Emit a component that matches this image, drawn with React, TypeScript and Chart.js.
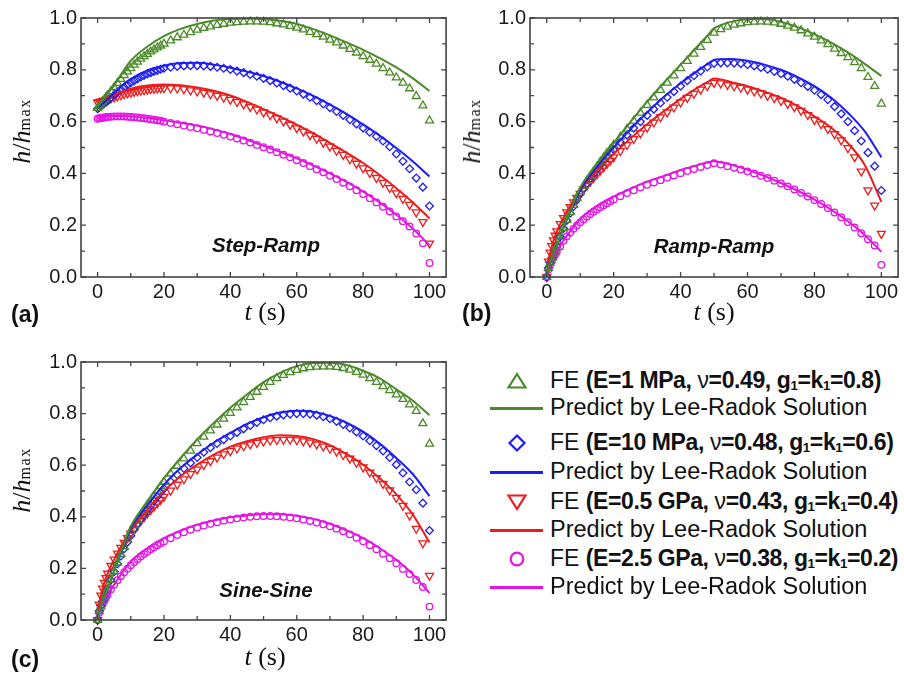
import React, { useEffect, useRef } from 'react';
import { Chart, registerables } from 'chart.js';

Chart.register(...registerables);

// ---------- shared axes ----------
const xTickValues = [0, 20, 40, 60, 80, 100];
const xMinorValues = [10, 30, 50, 70, 90];
const yTickValues = [0, 0.2, 0.4, 0.6, 0.8, 1.0];
const yMinorValues = [0.1, 0.3, 0.5, 0.7, 0.9];

// ---------- time grids ----------
const tFE = [0, 0.5, 1, 1.5, 2, 2.5, 3,
  4, 5, 6, 7, 8, 9, 10, 11, 12, 13, 14, 15, 16, 17, 18, 19, 20,
  22, 24, 26, 28, 30, 32, 34, 36, 38, 40,
  42, 44, 46, 48, 50, 52, 54, 56, 58, 60,
  62, 64, 66, 68, 70, 72, 74, 76, 78, 80,
  82, 84, 86, 88, 90, 92, 94, 96, 98, 100];
const tLine = [0, 0.5, 1, 2, 3, 5, 7.5, 10, 15, 20, 25, 30, 35, 40, 45, 50, 55, 60, 65, 70, 75, 80, 85, 90, 95, 100];
const tLineB = [0, 0.5, 1, 2, 3, 5, 7.5, 10, 15, 20, 25, 30, 35, 40, 45, 48, 50, 52, 55, 60, 65, 70, 75, 80, 85, 90, 95, 100];

// ---------- (a) Step-Ramp ----------
const aFeGreen = [0.652, 0.661, 0.669, 0.677, 0.685, 0.693, 0.701,
  0.717, 0.733, 0.749, 0.764, 0.779, 0.793, 0.806, 0.819, 0.831, 0.842, 0.852, 0.861, 0.87, 0.878, 0.886, 0.893, 0.9,
  0.913, 0.925, 0.935, 0.945, 0.954, 0.961, 0.967, 0.973, 0.977, 0.981,
  0.983, 0.985, 0.986, 0.986, 0.985, 0.983, 0.979, 0.975, 0.969, 0.962,
  0.955, 0.946, 0.937, 0.927, 0.916, 0.905, 0.893, 0.88, 0.866, 0.852,
  0.838, 0.823, 0.806, 0.789, 0.77, 0.75, 0.728, 0.698, 0.662, 0.604];
const aFeBlue = [0.65, 0.655, 0.66, 0.665, 0.67, 0.675, 0.68,
  0.692, 0.703, 0.714, 0.724, 0.733, 0.742, 0.75, 0.758, 0.765, 0.772, 0.778, 0.784, 0.789, 0.794, 0.798, 0.802, 0.806,
  0.81, 0.813, 0.815, 0.816, 0.816, 0.815, 0.813, 0.81, 0.806, 0.801,
  0.795, 0.789, 0.782, 0.775, 0.767, 0.758, 0.749, 0.739, 0.729, 0.718,
  0.706, 0.694, 0.681, 0.668, 0.654, 0.639, 0.624, 0.607, 0.591, 0.575,
  0.559, 0.543, 0.525, 0.503, 0.475, 0.447, 0.418, 0.382, 0.347, 0.274];
const aFeRed = [0.674, 0.676, 0.678, 0.68, 0.682, 0.684, 0.686,
  0.69, 0.694, 0.698, 0.702, 0.706, 0.709, 0.712, 0.715, 0.718, 0.72, 0.722, 0.724, 0.726, 0.727, 0.728, 0.729, 0.729,
  0.729, 0.728, 0.725, 0.721, 0.717, 0.712, 0.706, 0.7, 0.693, 0.685,
  0.676, 0.667, 0.657, 0.647, 0.636, 0.625, 0.613, 0.601, 0.588, 0.575,
  0.562, 0.548, 0.534, 0.519, 0.504, 0.488, 0.472, 0.455, 0.438, 0.42,
  0.402, 0.383, 0.364, 0.344, 0.324, 0.302, 0.279, 0.25, 0.213, 0.13];
const aFePink = [0.611, 0.613, 0.614, 0.615, 0.616, 0.617, 0.618,
  0.619, 0.62, 0.62, 0.62, 0.62, 0.619, 0.618, 0.617, 0.616, 0.614, 0.613, 0.611, 0.609, 0.607, 0.605, 0.603, 0.6,
  0.595, 0.59, 0.585, 0.579, 0.574, 0.568, 0.562, 0.556, 0.549, 0.542,
  0.535, 0.527, 0.519, 0.51, 0.501, 0.492, 0.482, 0.472, 0.462, 0.451,
  0.44, 0.428, 0.416, 0.404, 0.391, 0.378, 0.364, 0.35, 0.335, 0.32,
  0.304, 0.288, 0.271, 0.253, 0.234, 0.215, 0.195, 0.168, 0.13, 0.054];
const aLineGreen = [0.655, 0.665, 0.675, 0.692, 0.708, 0.74, 0.79, 0.835, 0.89, 0.93, 0.958, 0.977, 0.99, 0.996, 0.998, 0.996, 0.989, 0.977, 0.957, 0.933, 0.906, 0.877, 0.845, 0.809, 0.767, 0.718];
const aLineBlue = [0.652, 0.658, 0.664, 0.675, 0.686, 0.71, 0.74, 0.765, 0.798, 0.816, 0.826, 0.827, 0.82, 0.808, 0.793, 0.776, 0.754, 0.728, 0.699, 0.666, 0.63, 0.589, 0.546, 0.498, 0.446, 0.388];
const aLineRed = [0.677, 0.68, 0.683, 0.688, 0.693, 0.703, 0.716, 0.727, 0.739, 0.743, 0.74, 0.732, 0.719, 0.701, 0.676, 0.648, 0.619, 0.588, 0.555, 0.518, 0.48, 0.44, 0.394, 0.343, 0.288, 0.226];
const aLinePink = [0.614, 0.616, 0.617, 0.619, 0.621, 0.622, 0.622, 0.62, 0.614, 0.605, 0.595, 0.585, 0.57, 0.552, 0.53, 0.507, 0.483, 0.458, 0.43, 0.4, 0.367, 0.33, 0.288, 0.24, 0.186, 0.123];

// ---------- (b) Ramp-Ramp ----------
const bFeGreen = [0, 0.035, 0.055, 0.073, 0.09, 0.105, 0.12,
  0.155, 0.188, 0.22, 0.25, 0.278, 0.305, 0.33, 0.35, 0.37, 0.389, 0.408, 0.426, 0.444, 0.461, 0.478, 0.494, 0.51,
  0.541, 0.572, 0.603, 0.634, 0.664, 0.693, 0.722, 0.75, 0.778, 0.806,
  0.834, 0.862, 0.888, 0.915, 0.943, 0.956, 0.966, 0.974, 0.979, 0.983,
  0.985, 0.986, 0.985, 0.982, 0.977, 0.97, 0.962, 0.952, 0.94, 0.927,
  0.913, 0.898, 0.881, 0.864, 0.848, 0.829, 0.806, 0.772, 0.737, 0.669];
const bFeBlue = [0, 0.035, 0.055, 0.073, 0.09, 0.105, 0.12,
  0.155, 0.188, 0.218, 0.246, 0.272, 0.297, 0.32, 0.341, 0.361, 0.38, 0.398, 0.415, 0.432, 0.448, 0.463, 0.478, 0.492,
  0.52, 0.548, 0.575, 0.6, 0.624, 0.648, 0.672, 0.694, 0.716, 0.737,
  0.758, 0.777, 0.795, 0.811, 0.825, 0.827, 0.827, 0.826, 0.824, 0.82,
  0.815, 0.809, 0.802, 0.794, 0.785, 0.775, 0.763, 0.75, 0.736, 0.721,
  0.704, 0.685, 0.658, 0.63, 0.6, 0.565, 0.525, 0.48, 0.428, 0.334];
const bFeRed = [0, 0.06, 0.095, 0.12, 0.142, 0.16, 0.177,
  0.205, 0.228, 0.25, 0.27, 0.289, 0.306, 0.322, 0.338, 0.353, 0.368, 0.383, 0.397, 0.411, 0.424, 0.437, 0.45, 0.463,
  0.487, 0.51, 0.533, 0.555, 0.577, 0.597, 0.617, 0.636, 0.655, 0.674,
  0.692, 0.708, 0.724, 0.738, 0.75, 0.748, 0.742, 0.737, 0.731, 0.724,
  0.717, 0.709, 0.7, 0.691, 0.68, 0.669, 0.656, 0.642, 0.626, 0.607,
  0.59, 0.572, 0.552, 0.528, 0.498, 0.463, 0.408, 0.335, 0.276, 0.167];
const bFePink = [0, 0.028, 0.046, 0.061, 0.074, 0.086, 0.097,
  0.118, 0.14, 0.157, 0.172, 0.186, 0.199, 0.211, 0.222, 0.233, 0.243, 0.252, 0.261, 0.269, 0.277, 0.285, 0.292, 0.299,
  0.312, 0.324, 0.335, 0.346, 0.356, 0.365, 0.374, 0.383, 0.392, 0.401,
  0.409, 0.417, 0.425, 0.432, 0.439, 0.434, 0.428, 0.422, 0.415, 0.408,
  0.4, 0.391, 0.382, 0.372, 0.361, 0.35, 0.338, 0.325, 0.311, 0.297,
  0.282, 0.266, 0.249, 0.231, 0.212, 0.191, 0.169, 0.146, 0.122, 0.047];
const bLineGreen = [0, 0.035, 0.055, 0.09, 0.12, 0.19, 0.27, 0.345, 0.437, 0.517, 0.598, 0.677, 0.75, 0.82, 0.89, 0.932, 0.96, 0.972, 0.985, 0.995, 0.996, 0.985, 0.965, 0.938, 0.905, 0.867, 0.823, 0.776];
const bLineBlue = [0, 0.035, 0.055, 0.09, 0.12, 0.19, 0.265, 0.335, 0.425, 0.5, 0.57, 0.635, 0.695, 0.748, 0.795, 0.822, 0.838, 0.841, 0.842, 0.835, 0.82, 0.8, 0.772, 0.737, 0.692, 0.634, 0.563, 0.462];
const bLineRed = [0, 0.055, 0.09, 0.14, 0.175, 0.23, 0.285, 0.333, 0.41, 0.475, 0.535, 0.59, 0.64, 0.688, 0.73, 0.752, 0.766, 0.763, 0.753, 0.737, 0.716, 0.692, 0.66, 0.62, 0.576, 0.517, 0.433, 0.29];
const bLinePink = [0, 0.03, 0.05, 0.078, 0.1, 0.14, 0.185, 0.225, 0.275, 0.31, 0.34, 0.368, 0.39, 0.413, 0.432, 0.442, 0.447, 0.443, 0.434, 0.414, 0.39, 0.363, 0.333, 0.299, 0.26, 0.215, 0.162, 0.097];

// ---------- (c) Sine-Sine ----------
const cFeGreen = [0, 0.035, 0.055, 0.073, 0.09, 0.105, 0.12,
  0.155, 0.188, 0.222, 0.255, 0.285, 0.313, 0.345, 0.366, 0.387, 0.407, 0.427, 0.446, 0.464, 0.482, 0.5, 0.518, 0.535,
  0.567, 0.597, 0.626, 0.656, 0.685, 0.71, 0.734, 0.757, 0.78, 0.802,
  0.823, 0.844, 0.864, 0.884, 0.903, 0.922, 0.937, 0.949, 0.96, 0.969,
  0.975, 0.979, 0.981, 0.982, 0.982, 0.98, 0.976, 0.97, 0.961, 0.95,
  0.937, 0.922, 0.906, 0.89, 0.874, 0.856, 0.835, 0.81, 0.762, 0.683];
const cFeBlue = [0, 0.035, 0.055, 0.073, 0.09, 0.105, 0.12,
  0.155, 0.187, 0.218, 0.248, 0.276, 0.302, 0.327, 0.35, 0.371, 0.391, 0.41, 0.428, 0.445, 0.462, 0.478, 0.494, 0.509,
  0.537, 0.563, 0.587, 0.609, 0.63, 0.65, 0.668, 0.684, 0.699, 0.713,
  0.727, 0.741, 0.754, 0.766, 0.776, 0.784, 0.79, 0.795, 0.798, 0.8,
  0.8, 0.798, 0.794, 0.788, 0.78, 0.77, 0.758, 0.744, 0.729, 0.713,
  0.695, 0.676, 0.655, 0.63, 0.602, 0.57, 0.535, 0.505, 0.453, 0.347];
const cFeRed = [0, 0.06, 0.095, 0.122, 0.145, 0.163, 0.18,
  0.21, 0.235, 0.258, 0.28, 0.3, 0.318, 0.335, 0.352, 0.368, 0.384, 0.399, 0.413, 0.427, 0.44, 0.453, 0.466, 0.478,
  0.502, 0.525, 0.546, 0.566, 0.584, 0.601, 0.616, 0.63, 0.643, 0.655,
  0.665, 0.674, 0.681, 0.687, 0.692, 0.696, 0.698, 0.699, 0.699, 0.697,
  0.693, 0.688, 0.681, 0.673, 0.664, 0.653, 0.64, 0.626, 0.61, 0.592,
  0.572, 0.551, 0.528, 0.503, 0.474, 0.443, 0.405, 0.354, 0.298, 0.172];
const cFePink = [0, 0.028, 0.046, 0.061, 0.074, 0.086, 0.097,
  0.118, 0.137, 0.154, 0.17, 0.185, 0.199, 0.212, 0.224, 0.235, 0.246, 0.256, 0.265, 0.274, 0.282, 0.29, 0.297, 0.304,
  0.317, 0.329, 0.34, 0.35, 0.358, 0.366, 0.373, 0.379, 0.385, 0.39,
  0.394, 0.397, 0.4, 0.402, 0.403, 0.403, 0.402, 0.4, 0.397, 0.394,
  0.389, 0.384, 0.378, 0.371, 0.363, 0.354, 0.344, 0.332, 0.319, 0.305,
  0.29, 0.274, 0.257, 0.239, 0.22, 0.198, 0.178, 0.155, 0.128, 0.052];
const cLineGreen = [0, 0.035, 0.055, 0.09, 0.12, 0.19, 0.28, 0.363, 0.46, 0.55, 0.628, 0.7, 0.764, 0.823, 0.874, 0.922, 0.958, 0.984, 0.996, 0.997, 0.988, 0.966, 0.937, 0.894, 0.85, 0.794];
const cLineBlue = [0, 0.035, 0.055, 0.09, 0.12, 0.19, 0.275, 0.355, 0.445, 0.525, 0.589, 0.641, 0.687, 0.725, 0.76, 0.786, 0.804, 0.811, 0.807, 0.791, 0.765, 0.73, 0.684, 0.628, 0.565, 0.48];
const cLineRed = [0, 0.06, 0.095, 0.145, 0.18, 0.235, 0.295, 0.345, 0.428, 0.499, 0.557, 0.602, 0.641, 0.672, 0.693, 0.708, 0.716, 0.713, 0.701, 0.678, 0.643, 0.602, 0.549, 0.487, 0.408, 0.3];
const cLinePink = [0, 0.03, 0.05, 0.078, 0.1, 0.137, 0.185, 0.227, 0.278, 0.317, 0.346, 0.369, 0.386, 0.398, 0.405, 0.41, 0.41, 0.404, 0.392, 0.373, 0.347, 0.317, 0.278, 0.233, 0.177, 0.104];

// ---------- legend text ----------
const legendE = ['1 MPa', '10 MPa', '0.5 GPa', '2.5 GPa'];
const legendNu = ['0.49', '0.48', '0.43', '0.38'];
const legendG = ['0.8', '0.6', '0.4', '0.2'];
const legendPredict = 'Predict by Lee-Radok Solution';
const panelNames = ['Step-Ramp', 'Ramp-Ramp', 'Sine-Sine'];
const panelLetters = ['(a)', '(b)', '(c)'];

// ---------- styles ----------
const SANS = '"Liberation Sans", Arial, Helvetica, sans-serif';
const SERIF = '"Liberation Serif", "Times New Roman", Times, serif';
const COLORS = ['#4a8a28', '#1c1cf5', '#ea1c1c', '#e414e4'];
const MARKERS = [
  { style: 'triangle', rotation: 0, radius: 4.6 },
  { style: 'rectRot', rotation: 0, radius: 3.9 },
  { style: 'triangle', rotation: 180, radius: 4.6 },
  { style: 'circle', rotation: 0, radius: 3.3 },
];
const FRAME = '#444444';
const LEGEND_ROWS = [381, 408, 443, 472, 502, 530, 559, 587];

const framePlugin = {
  id: 'frame',
  afterDatasetsDraw(chart: any) {
    const { ctx, chartArea, scales } = chart;
    const { left, right, top, bottom } = chartArea;
    const xs = scales.x;
    const ys = scales.y;
    ctx.save();
    ctx.strokeStyle = FRAME;
    ctx.lineWidth = 1.3;
    ctx.beginPath();
    const xt = (vals: number[], len: number) => {
      vals.forEach((v) => {
        const p = xs.getPixelForValue(v);
        ctx.moveTo(p, bottom); ctx.lineTo(p, bottom - len);
        ctx.moveTo(p, top); ctx.lineTo(p, top + len);
      });
    };
    const yt = (vals: number[], len: number) => {
      vals.forEach((v) => {
        const p = ys.getPixelForValue(v);
        ctx.moveTo(left, p); ctx.lineTo(left + len, p);
        ctx.moveTo(right, p); ctx.lineTo(right - len, p);
      });
    };
    xt(xTickValues, 5);
    xt(xMinorValues, 4);
    yt(yTickValues, 5);
    yt(yMinorValues, 4);
    ctx.stroke();
    ctx.lineWidth = 1.6;
    ctx.strokeRect(left, top, right - left, bottom - top);
    ctx.restore();
  },
};

function Panel(props: any) {
  const { left, top, width, height, area, fe, lines, tl } = props;
  const ref = useRef<HTMLCanvasElement>(null);
  useEffect(() => {
    const datasets: any[] = [];
    lines.forEach((ys: number[], i: number) => {
      datasets.push({
        data: tl.map((t: number, j: number) => ({ x: t, y: ys[j] })),
        borderColor: COLORS[i],
        borderWidth: 2,
        pointRadius: 0,
        fill: false,
        cubicInterpolationMode: 'monotone',
        order: 0,
      });
    });
    fe.forEach((ys: number[], i: number) => {
      datasets.push({
        data: tFE.map((t: number, j: number) => ({ x: t, y: ys[j] })),
        showLine: false,
        borderColor: COLORS[i],
        backgroundColor: 'rgba(0,0,0,0)',
        pointStyle: MARKERS[i].style,
        pointRotation: MARKERS[i].rotation,
        pointRadius: MARKERS[i].radius,
        pointBorderWidth: 1.3,
        pointBorderColor: COLORS[i],
        pointBackgroundColor: 'rgba(0,0,0,0)',
        clip: false,
        order: 1,
      });
    });
    const tickFont = { family: SANS, size: 20 };
    const chart = new Chart(ref.current as HTMLCanvasElement, {
      type: 'line',
      data: { datasets },
      plugins: [framePlugin],
      options: {
        responsive: false,
        animation: false,
        devicePixelRatio: 1,
        events: [],
        layout: { padding: { left: 0, top: area.top, right: width - area.right, bottom: 0 } },
        plugins: { legend: { display: false }, tooltip: { enabled: false } },
        scales: {
          x: {
            type: 'linear',
            min: -5,
            max: 105,
            grid: { display: false, drawTicks: false },
            border: { display: false },
            afterBuildTicks: (s: any) => { s.ticks = xTickValues.map((v) => ({ value: v })); },
            afterFit: (s: any) => { s.height = height - area.bottom; },
            ticks: { padding: 3, font: tickFont, color: '#1a1a1a', maxRotation: 0, autoSkip: false, callback: (v: any) => String(v) },
          },
          y: {
            type: 'linear',
            min: 0,
            max: 1,
            grid: { display: false, drawTicks: false },
            border: { display: false },
            afterBuildTicks: (s: any) => { s.ticks = yTickValues.map((v) => ({ value: v })); },
            afterFit: (s: any) => { s.width = area.left; },
            ticks: { padding: 4, font: tickFont, color: '#1a1a1a', autoSkip: false, callback: (v: any) => Number(v).toFixed(1) },
          },
        },
      } as any,
    });
    return () => chart.destroy();
  }, []);
  return (
    <canvas ref={ref} width={width} height={height}
      style={{ position: 'absolute', left, top, width, height }} />
  );
}

function YTitle({ x, y }: any) {
  return (
    <div style={{ position: 'absolute', left: x, top: y, transform: 'translate(-50%, -50%) rotate(-90deg)', fontFamily: SERIF, fontSize: 26, lineHeight: 1, whiteSpace: 'nowrap', color: '#111' }}>
      <i>h</i>/<i>h</i><span style={{ fontSize: 16, letterSpacing: 1.5 }}>max</span>
    </div>
  );
}

function XTitle({ x, y }: any) {
  return (
    <div style={{ position: 'absolute', left: x, top: y, transform: 'translate(-50%, -50%)', fontFamily: SERIF, fontSize: 26, lineHeight: 1, whiteSpace: 'nowrap', color: '#111' }}>
      <i>t</i> (s)
    </div>
  );
}

function Label({ x, y, text, italic, size }: any) {
  return (
    <div style={{ position: 'absolute', left: x, top: y, transform: italic ? 'translate(-50%, -50%)' : 'translate(0, -50%)', fontFamily: SANS, fontWeight: 'bold', fontStyle: italic ? 'italic' : 'normal', fontSize: size, lineHeight: 1, whiteSpace: 'nowrap', color: '#111' }}>
      {text}
    </div>
  );
}

function MarkerIcon({ i }: any) {
  const c = COLORS[i];
  let shape: any = null;
  if (i === 0) shape = <polygon points="12,5 20.5,18.5 3.5,18.5" fill="none" stroke={c} strokeWidth={2.2} />;
  if (i === 1) shape = <polygon points="12,4.5 19.5,12 12,19.5 4.5,12" fill="none" stroke={c} strokeWidth={2.2} />;
  if (i === 2) shape = <polygon points="3.5,5.5 20.5,5.5 12,19" fill="none" stroke={c} strokeWidth={2.2} />;
  if (i === 3) shape = <circle cx={12} cy={12} r={6.3} fill="none" stroke={c} strokeWidth={2.2} />;
  return <svg width={24} height={24} style={{ position: 'absolute', left: 505, top: -12 }}>{shape}</svg>;
}

function Legend() {
  const rows: any[] = [];
  const sub = (s: string) => <span style={{ fontSize: '58%', verticalAlign: '-0.15em' }}>{s}</span>;
  const textStyle: any = { position: 'absolute', left: 550, top: 0, transform: 'translateY(-50%)', fontFamily: SANS, fontSize: 23.5, lineHeight: 1, whiteSpace: 'nowrap', color: '#111' };
  const feStyle: any = { ...textStyle, fontSize: 23, letterSpacing: -0.4 };
  for (let i = 0; i < 4; i++) {
    const yA = LEGEND_ROWS[2 * i];
    const yB = LEGEND_ROWS[2 * i + 1];
    rows.push(
      <div key={'m' + i} style={{ position: 'absolute', left: 0, top: yA, width: 904, height: 0 }}>
        <MarkerIcon i={i} />
        <div style={feStyle}>
          <span style={{ letterSpacing: 0 }}>FE </span><b>(E={legendE[i]}, </b><span>ν</span><b>={legendNu[i]}, g{sub('1')}=k{sub('1')}={legendG[i]})</b>
        </div>
      </div>
    );
    rows.push(
      <div key={'l' + i} style={{ position: 'absolute', left: 0, top: yB, width: 904, height: 0 }}>
        <div style={{ position: 'absolute', left: 490, top: -1.5, width: 53, height: 3, background: COLORS[i] }} />
        <div style={textStyle}>{legendPredict}</div>
      </div>
    );
  }
  return <>{rows}</>;
}

export default function App() {
  const areaA = { left: 81, right: 449, top: 18, bottom: 277 };
  const areaB = { left: 80, right: 448.5, top: 18, bottom: 277 };
  const areaC = { left: 81, right: 449, top: 18, bottom: 276 };
  return (
    <div style={{ position: 'absolute', left: 0, top: 0, width: 904, height: 673, background: '#fff', overflow: 'hidden' }}>
      <Panel left={0} top={0} width={452} height={330} area={areaA} tl={tLine}
        fe={[aFeGreen, aFeBlue, aFeRed, aFePink]} lines={[aLineGreen, aLineBlue, aLineRed, aLinePink]} />
      <Panel left={450} top={0} width={454} height={330} area={areaB} tl={tLineB}
        fe={[bFeGreen, bFeBlue, bFeRed, bFePink]} lines={[bLineGreen, bLineBlue, bLineRed, bLinePink]} />
      <Panel left={0} top={344} width={452} height={329} area={areaC} tl={tLine}
        fe={[cFeGreen, cFeBlue, cFeRed, cFePink]} lines={[cLineGreen, cLineBlue, cLineRed, cLinePink]} />

      <YTitle x={22} y={131} />
      <YTitle x={472} y={131} />
      <YTitle x={22} y={480} />
      <XTitle x={265} y={312} />
      <XTitle x={714} y={312} />
      <XTitle x={265} y={657} />

      <Label x={11} y={314} text={panelLetters[0]} size={23} />
      <Label x={462} y={313} text={panelLetters[1]} size={23} />
      <Label x={11} y={659} text={panelLetters[2]} size={23} />
      <Label x={266} y={245} text={panelNames[0]} italic size={20.5} />
      <Label x={714} y={246} text={panelNames[1]} italic size={20.5} />
      <Label x={266} y={590} text={panelNames[2]} italic size={20.5} />

      <Legend />
    </div>
  );
}
